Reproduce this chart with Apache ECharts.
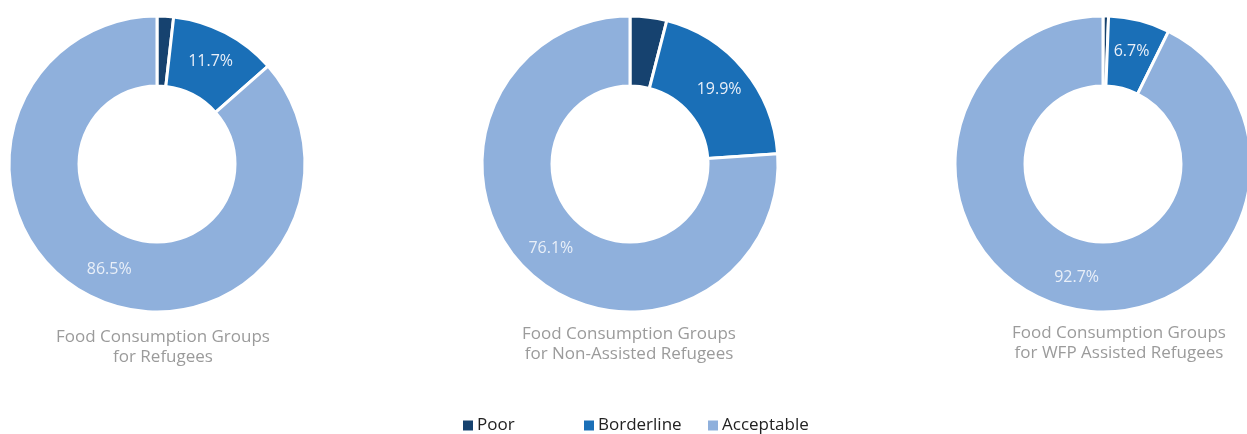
<!DOCTYPE html>
<html>
<head>
<meta charset="utf-8">
<script src="https://cdn.jsdelivr.net/npm/echarts@6/dist/echarts.min.js"></script>
<style>
  html, body { margin: 0; padding: 0; background: #fff; }
  #chart { width: 1247px; height: 434px; }
</style>
</head>
<body>
<div id="chart"></div>
<script>
// Food consumption groups (% of households)
const categories = ['Poor', 'Borderline', 'Acceptable'];
const refugees = [1.8, 11.7, 86.5];
const nonAssisted = [4.0, 19.9, 76.1];
const wfpAssisted = [0.6, 6.7, 92.7];
const groupTitles = [
  'Food Consumption Groups\nfor Refugees',
  'Food Consumption Groups\nfor Non-Assisted Refugees',
  'Food Consumption Groups\nfor WFP Assisted Refugees'
];

const colors = ['#16426f', '#1a6fb7', '#8fb0dc'];
const fontFamily = '"Open Sans", "Noto Sans", sans-serif';

const panels = [
  { values: refugees, center: [157, 164], titleX: 163, titleY: 327 },
  { values: nonAssisted, center: [630, 164], titleX: 629, titleY: 324 },
  { values: wfpAssisted, center: [1103, 164], titleX: 1119, titleY: 323 }
];

function pieSeries(panel, idx) {
  return {
    type: 'pie',
    name: groupTitles[idx],
    center: panel.center,
    radius: [78, 148],
    startAngle: 90,
    clockwise: true,
    avoidLabelOverlap: false,
    silent: true,
    itemStyle: { borderColor: '#ffffff', borderWidth: 3 },
    label: {
      show: true,
      position: 'inside',
      formatter: p => p.value.toFixed(1) + '%',
      color: '#e9eff8',
      fontSize: 16,
      fontFamily: fontFamily
    },
    labelLine: { show: false },
    data: categories.map((name, i) => ({
      name: name,
      value: panel.values[i],
      itemStyle: { color: colors[i] },
      label: { show: i !== 0 }
    }))
  };
}

const legendSlots = [461, 582, 706];

const option = {
  animation: false,
  color: colors,
  title: panels.map((p, i) => ({
    text: groupTitles[i],
    left: p.titleX,
    top: p.titleY,
    padding: 0,
    textAlign: 'center',
    textStyle: {
      color: '#9b9b9b',
      fontSize: 17,
      fontWeight: 'normal',
      fontFamily: fontFamily,
      lineHeight: 20
    }
  })),
  legend: categories.map((name, i) => ({
    data: [name],
    left: legendSlots[i],
    top: 417,
    padding: 0,
    icon: 'rect',
    itemWidth: 12,
    itemHeight: 12,
    itemGap: 5,
    selectedMode: false,
    textStyle: { color: '#222222', fontSize: 17, fontFamily: fontFamily, padding: [0, 0, 0, -2] }
  })),
  series: panels.map(pieSeries)
};

const chart = echarts.init(document.getElementById('chart'), null, { renderer: 'canvas' });
chart.setOption(option);
</script>
</body>
</html>
